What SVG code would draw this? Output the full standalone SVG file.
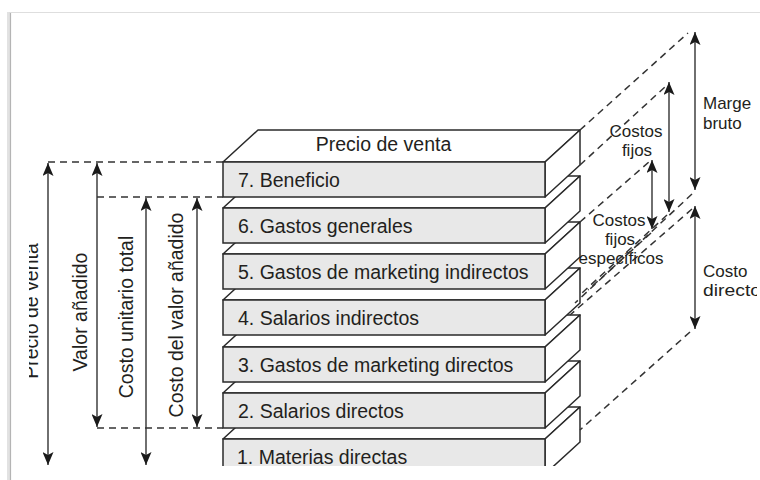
<svg xmlns="http://www.w3.org/2000/svg" width="760" height="480" viewBox="0 0 760 480">
<defs>
<style>
.f{fill:#e8e8e8;stroke:#2a2a2a;stroke-width:1.5}
.w{fill:#fff;stroke:#2a2a2a;stroke-width:1.5;stroke-linejoin:round}
.t{font-family:"Liberation Sans",Arial,sans-serif;font-size:19.5px;fill:#231f20}
.s{font-family:"Liberation Sans",Arial,sans-serif;font-size:17px;fill:#231f20}
.d{stroke:#333;stroke-width:1.5;stroke-dasharray:7 5;fill:none}
.a{stroke:#333;stroke-width:1.4;fill:none;marker-start:url(#ah);marker-end:url(#ah)}
</style>
<marker id="ah" markerUnits="userSpaceOnUse" viewBox="0 0 13 11" markerWidth="13" markerHeight="11" refX="13" refY="5.5" orient="auto-start-reverse">
<path d="M13,5.5 L0,0 L3,5.5 L0,11 Z" fill="#1a1a1a"/>
</marker>
<clipPath id="c"><rect x="0" y="0" width="757" height="466"/></clipPath>
<clipPath id="cp"><rect x="29" y="0" width="40" height="480"/></clipPath>
</defs>
<rect width="760" height="480" fill="#fff"/>
<g id="frame">
<line x1="8.5" y1="12" x2="8.5" y2="480" stroke="#e2e2e2" stroke-width="3"/>
<line x1="10.5" y1="12" x2="10.5" y2="480" stroke="#b4b4b4" stroke-width="1.2"/>
<line x1="10" y1="12.5" x2="760" y2="12.5" stroke="#dedede" stroke-width="1"/>
</g>
<g clip-path="url(#c)">
<g id="block1">
<polygon class="w" points="223,439 258,407 580,407 545,439"/>
<polygon class="w" points="545,439 580,407 580,442 545,474"/>
<rect class="f" x="223" y="439" width="322" height="35"/>
<text class="t" x="237" y="464">1. Materias directas</text>
</g>
<g id="block2">
<polygon class="w" points="223,393 258,361 580,361 545,393"/>
<polygon class="w" points="545,393 580,361 580,396 545,428"/>
<rect class="f" x="223" y="393" width="322" height="35"/>
<text class="t" x="238" y="418">2. Salarios directos</text>
</g>
<g id="block3">
<polygon class="w" points="223,347 258,315 580,315 545,347"/>
<polygon class="w" points="545,347 580,315 580,350 545,382"/>
<rect class="f" x="223" y="347" width="322" height="35"/>
<text class="t" x="238" y="372">3. Gastos de marketing directos</text>
</g>
<g id="block4">
<polygon class="w" points="223,300 258,268 580,268 545,300"/>
<polygon class="w" points="545,300 580,268 580,303 545,335"/>
<rect class="f" x="223" y="300" width="322" height="35"/>
<text class="t" x="238" y="325">4. Salarios indirectos</text>
</g>
<g id="block5">
<polygon class="w" points="223,254 258,222 580,222 545,254"/>
<polygon class="w" points="545,254 580,222 580,257 545,289"/>
<rect class="f" x="223" y="254" width="322" height="35"/>
<text class="t" x="238" y="279">5. Gastos de marketing indirectos</text>
</g>
<g id="block6">
<polygon class="w" points="223,208 258,176 580,176 545,208"/>
<polygon class="w" points="545,208 580,176 580,211 545,243"/>
<rect class="f" x="223" y="208" width="322" height="35"/>
<text class="t" x="238" y="233">6. Gastos generales</text>
</g>
<g id="block7">
<polygon class="w" points="223,162 258,130 580,130 545,162"/>
<polygon class="w" points="545,162 580,130 580,165 545,197"/>
<rect class="f" x="223" y="162" width="322" height="35"/>
<text class="t" x="238" y="187">7. Beneficio</text>
<text class="t" x="383.5" y="151" text-anchor="middle">Precio de venta</text>
</g>
<g id="connectors">
<line class="d" x1="48" y1="162" x2="223" y2="162"/>
<line class="d" x1="97" y1="197" x2="223" y2="197"/>
<line class="d" x1="97" y1="428" x2="223" y2="428"/>
<line class="d" x1="580" y1="130" x2="688" y2="33"/>
<line class="d" x1="580" y1="165" x2="666" y2="86"/>
<line class="d" x1="580" y1="222" x2="650" y2="161"/>
<line class="d" x1="692" y1="194" x2="575" y2="303"/>
<line class="d" x1="692" y1="209" x2="570" y2="315"/>
<line class="d" x1="667" y1="215" x2="582" y2="293"/>
<line class="d" x1="651" y1="233" x2="588" y2="290"/>
<line class="d" x1="690" y1="332" x2="580" y2="430"/>
<line class="a" x1="48" y1="163" x2="48" y2="465"/>
<line class="a" x1="97" y1="163" x2="97" y2="427"/>
<line class="a" x1="146" y1="198" x2="146" y2="465"/>
<line class="a" x1="197" y1="198" x2="197" y2="427"/>
<line class="a" x1="695" y1="32" x2="695" y2="190"/>
<line class="a" x1="669" y1="82" x2="669" y2="212"/>
<line class="a" x1="652" y1="160" x2="652" y2="229"/>
<line class="a" x1="695" y1="206" x2="695" y2="329"/>
</g>
<g id="labels">
<g clip-path="url(#cp)"><text class="t" transform="translate(38,311) rotate(-90)" text-anchor="middle">Precio de venta</text></g>
<text class="t" transform="translate(87,312) rotate(-90)" text-anchor="middle">Valor añadido</text>
<text class="t" transform="translate(133,317) rotate(-90)" text-anchor="middle">Costo unitario total</text>
<text class="t" transform="translate(183,315) rotate(-90)" text-anchor="middle">Costo del valor añadido</text>
<text class="s" x="703" y="109">Marge</text>
<text class="s" x="703" y="129">bruto</text>
<text class="s" x="636" y="137" text-anchor="middle">Costos</text>
<text class="s" x="637" y="156" text-anchor="middle">fijos</text>
<text class="s" x="619" y="226" text-anchor="middle">Costos</text>
<text class="s" x="620" y="245" text-anchor="middle">fijos</text>
<text class="s" x="621" y="264" text-anchor="middle">específicos</text>
<text class="s" x="703" y="277">Costo</text>
<text class="s" x="703" y="296" textLength="58" lengthAdjust="spacingAndGlyphs">directo</text>
</g>
</g>
</svg>
